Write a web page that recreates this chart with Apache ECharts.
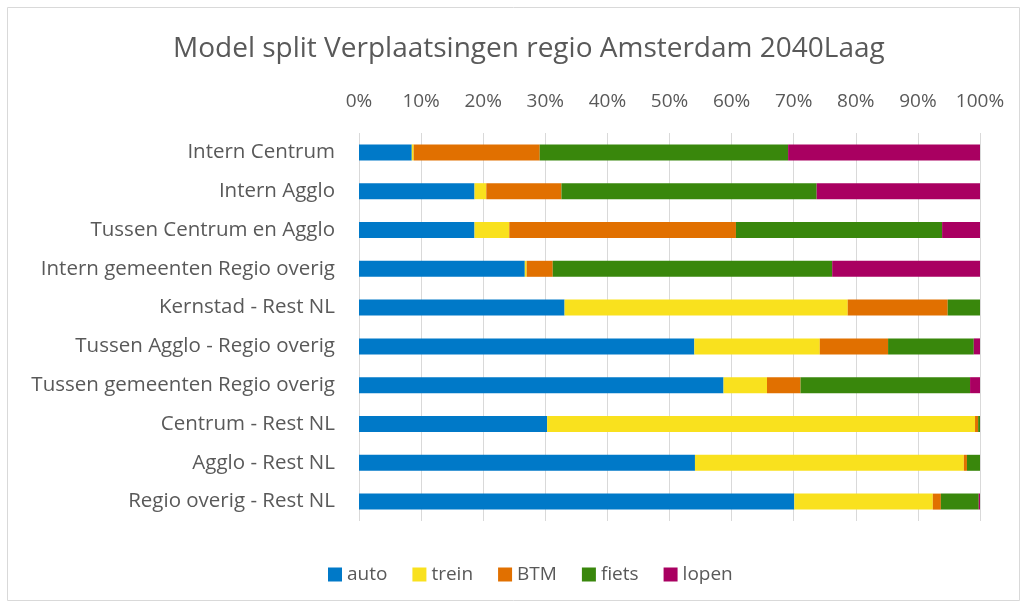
<!DOCTYPE html>
<html>
<head>
<meta charset="utf-8">
<script src="https://cdn.jsdelivr.net/npm/echarts@6/dist/echarts.min.js"></script>
<style>
  html, body { margin: 0; padding: 0; background: #fff; }
  #chart { width: 1027px; height: 606px; }
</style>
</head>
<body>
<div id="chart"></div>
<script>
// Herkomst-bestemming relaties (van boven naar beneden)
const categories = [
  'Intern Centrum',
  'Intern Agglo',
  'Tussen Centrum en Agglo',
  'Intern gemeenten Regio overig',
  'Kernstad - Rest NL',
  'Tussen Agglo - Regio overig',
  'Tussen gemeenten Regio overig',
  'Centrum - Rest NL',
  'Agglo - Rest NL',
  'Regio overig - Rest NL'
];

// Aandeel per vervoerwijze (%)
const auto  = [8.5, 18.6, 18.6, 26.7, 33.1, 54.0, 58.7, 30.3, 54.1, 70.1];
const trein = [0.3,  1.9,  5.6,  0.3, 45.6, 20.2,  7.0, 68.9, 43.3, 22.3];
const btm   = [20.3, 12.1, 36.5,  4.2, 16.1, 11.0,  5.4,  0.5,  0.5,  1.3];
const fiets = [40.0, 41.1, 33.2, 45.0,  5.2, 13.8, 27.3,  0.3,  2.1,  6.1];
const lopen = [30.9, 26.3,  6.1, 23.8,  0.0,  1.0,  1.6,  0.0,  0.0,  0.2];

const seriesNames = ['auto', 'trein', 'BTM', 'fiets', 'lopen'];
const seriesData = [auto, trein, btm, fiets, lopen];
const colors = ['#0079C8', '#F9E11E', '#E17000', '#39870C', '#A90061'];

const fontFamily = '"Open Sans", "Noto Sans", sans-serif';
const textColor = '#595959';

const chart = echarts.init(document.getElementById('chart'));
chart.setOption({
  animation: false,
  color: colors,
  title: {
    text: 'Model split Verplaatsingen regio Amsterdam 2040Laag',
    left: 168,
    top: 30,
    textStyle: { fontFamily, fontSize: 28, fontWeight: 'normal', color: textColor }
  },
  graphic: [{
    type: 'rect',
    shape: { x: 7.5, y: 7.5, width: 1012, height: 593 },
    style: { fill: 'none', stroke: '#d9d9d9', lineWidth: 1 },
    silent: true
  }],
  legend: {
    bottom: 17,
    left: 323,
    itemWidth: 14,
    itemHeight: 14,
    itemGap: 25,
    icon: 'rect',
    textStyle: { fontFamily, fontSize: 19, color: textColor }
  },
  grid: { left: 359, right: 47, top: 133, bottom: 85 },
  xAxis: {
    type: 'value',
    position: 'top',
    min: 0,
    max: 100,
    interval: 10,
    axisLine: { show: false },
    axisTick: { show: false },
    axisLabel: { formatter: '{value}%', fontFamily, fontSize: 19, color: textColor, margin: 22 },
    splitLine: { lineStyle: { color: '#d9d9d9', width: 1 } }
  },
  yAxis: {
    type: 'category',
    inverse: true,
    data: categories,
    axisLine: { show: false },
    axisTick: { show: false },
    axisLabel: { fontFamily, fontSize: 20.5, color: textColor, margin: 24 }
  },
  series: seriesNames.map((name, i) => ({
    name,
    type: 'bar',
    stack: 'total',
    barWidth: 16,
    data: seriesData[i]
  }))
});
</script>
</body>
</html>
